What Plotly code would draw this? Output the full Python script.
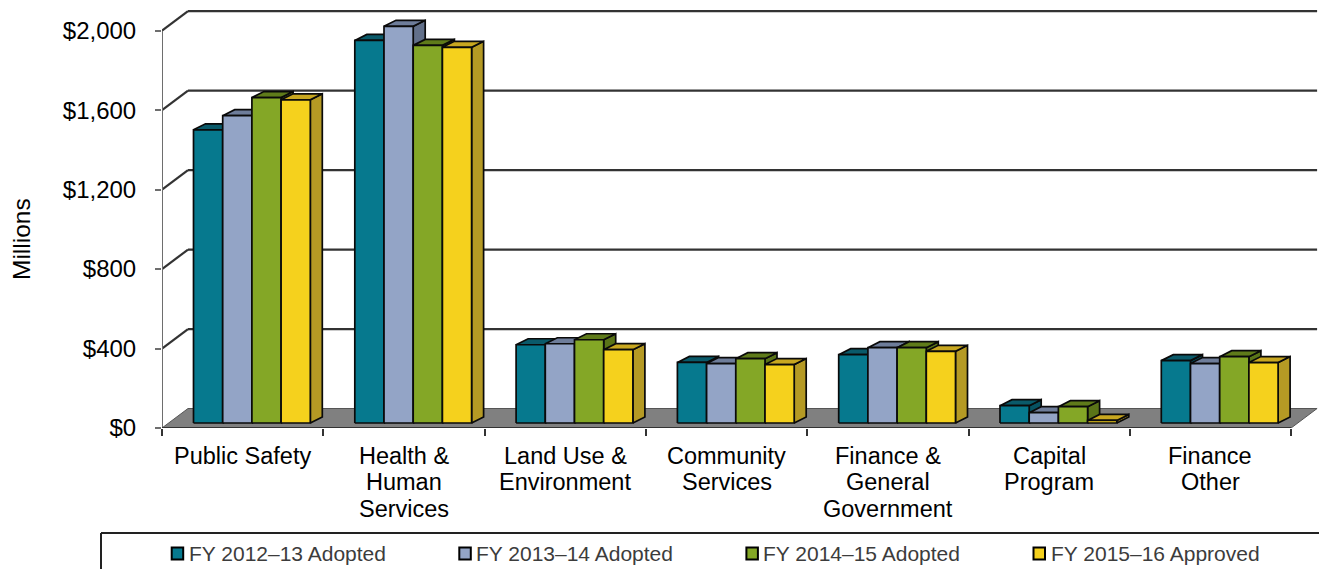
import plotly.graph_objects as go

# ---- data (millions of dollars) ----
categories = [
    ["Public Safety"],
    ["Health &", "Human", "Services"],
    ["Land Use &", "Environment"],
    ["Community", "Services"],
    ["Finance &", "General", "Government"],
    ["Capital", "Program"],
    ["Finance", "Other"],
]
series_names = ["FY 2012–13 Adopted", "FY 2013–14 Adopted",
                "FY 2014–15 Adopted", "FY 2015–16 Approved"]
fy_2012_13 = [1476, 1926, 394, 305, 344, 87, 314]
fy_2013_14 = [1547, 1997, 399, 299, 379, 52, 299]
fy_2014_15 = [1638, 1901, 419, 324, 379, 82, 334]
fy_2015_16 = [1627, 1891, 369, 294, 361, 13, 304]
series_values = [fy_2012_13, fy_2013_14, fy_2014_15, fy_2015_16]
y_ticks = [0, 400, 800, 1200, 1600, 2000]

# ---- colours: front / top / side faces ----
face_colors = [
    ("#06798E", "#0A5A6A", "#075262"),
    ("#93A4C6", "#6E7D9A", "#62708A"),
    ("#84A726", "#5F7B1A", "#5A7418"),
    ("#F5D11D", "#C8A720", "#B59A24"),
]

# ---- geometry of the oblique view ----
W, H = 1319, 569
L_M, B_M = 162, 141
PLOT_W, PLOT_H = W - L_M, H - B_M
PX_PER_CAT = 161.3
PX_PER_M = 0.19865
X_MAX = PLOT_W / PX_PER_CAT
Y_MAX = PLOT_H / PX_PER_M
N_CAT = len(categories)

FLOOR_DX = 26 / PX_PER_CAT
FLOOR_DY = 19.5 / PX_PER_M
BAR_X0 = 31.5 / PX_PER_CAT
BAR_W = 29.2 / PX_PER_CAT
BAR_BASE = 5 / PX_PER_M
BAR_DX = 12 / PX_PER_CAT
BAR_DY = 6 / PX_PER_M

FONT = "Arial, Liberation Sans, sans-serif"


def px_x(p):
    return (p - L_M) / PLOT_W


def px_y(p):
    return (PLOT_H - p) / PLOT_H


fig = go.Figure()

# bars: faces drawn series by series so the next bar hides the previous side
for j, vals in enumerate(series_values):
    front_c, top_c, side_c = face_colors[j]
    fx, fy, tx, ty, sx, sy = [], [], [], [], [], []
    for i, v in enumerate(vals):
        xl = i + BAR_X0 + j * BAR_W
        xr = xl + BAR_W
        y0 = BAR_BASE
        y1 = BAR_BASE + v
        sx += [xr, xr + BAR_DX, xr + BAR_DX, xr, xr, None]
        sy += [y0, y0 + BAR_DY, y1 + BAR_DY, y1, y0, None]
        tx += [xl, xr, xr + BAR_DX, xl + BAR_DX, xl, None]
        ty += [y1, y1, y1 + BAR_DY, y1 + BAR_DY, y1, None]
        fx += [xl, xr, xr, xl, xl, None]
        fy += [y0, y0, y1, y1, y0, None]
    for xs, ys, col in ((sx, sy, side_c), (tx, ty, top_c), (fx, fy, front_c)):
        fig.add_trace(go.Scatter(
            x=xs, y=ys, mode="lines", fill="toself", fillcolor=col,
            line=dict(color="#0a0a0a", width=1.7), hoverinfo="skip",
            showlegend=False, name=series_names[j]))

shapes = []
# floor
shapes.append(dict(
    type="path", xref="x", yref="y", layer="below",
    path=(f"M0,0 L{N_CAT},0 L{N_CAT + FLOOR_DX},{FLOOR_DY} "
          f"L{FLOOR_DX},{FLOOR_DY} Z"),
    fillcolor="#808080", line=dict(color="#555555", width=1)))
# back-wall gridlines and side-wall diagonals
for v in y_ticks[1:]:
    shapes.append(dict(type="line", xref="x", yref="y", layer="below",
                       x0=FLOOR_DX, x1=N_CAT + FLOOR_DX,
                       y0=v + FLOOR_DY, y1=v + FLOOR_DY,
                       line=dict(color="#333333", width=2.2)))
    shapes.append(dict(type="line", xref="x", yref="y", layer="below",
                       x0=0, x1=FLOOR_DX, y0=v, y1=v + FLOOR_DY,
                       line=dict(color="#333333", width=2.2)))
# value axis line and floor front edge
shapes.append(dict(type="line", xref="x", yref="y", x0=0, x1=0,
                   y0=0, y1=y_ticks[-1], line=dict(color="#6e6e6e", width=2)))
shapes.append(dict(type="line", xref="x", yref="y", x0=0, x1=N_CAT,
                   y0=0, y1=0, line=dict(color="#333333", width=2)))

# legend frame
shapes.append(dict(type="line", xref="paper", yref="paper",
                   x0=px_x(101), x1=px_x(W + 5), y0=px_y(533), y1=px_y(533),
                   line=dict(color="#222222", width=2)))
shapes.append(dict(type="line", xref="paper", yref="paper",
                   x0=px_x(101), x1=px_x(101), y0=px_y(533), y1=px_y(H + 5),
                   line=dict(color="#222222", width=2)))

annotations = []
# category labels, one line per annotation
LINE_GAP = 27
FIRST_BASELINE = 464
CAT_FONT = 23.5
for i, lines in enumerate(categories):
    for k, txt in enumerate(lines):
        base = FIRST_BASELINE + k * LINE_GAP
        annotations.append(dict(
            x=i + 0.5, xref="x", y=px_y(base - 8.5), yref="paper",
            text=txt, showarrow=False, xanchor="center", yanchor="middle",
            font=dict(family=FONT, size=CAT_FONT, color="#000000")))

# legend entries
legend_left = [171.7, 459.3, 746.4, 1033.5]
for j, name in enumerate(series_names):
    x0 = legend_left[j]
    shapes.append(dict(type="rect", xref="paper", yref="paper",
                       x0=px_x(x0), x1=px_x(x0 + 11.5),
                       y0=px_y(559.5), y1=px_y(547.5),
                       fillcolor=face_colors[j][0],
                       line=dict(color="#000000", width=2)))
    annotations.append(dict(
        x=px_x(x0 + 15), xref="paper", y=px_y(553), yref="paper",
        text=name, showarrow=False, xanchor="left", yanchor="middle",
        font=dict(family=FONT, size=21, color="#3c3c3c")))

# axis title
annotations.append(dict(
    x=px_x(22), xref="paper", y=px_y(239), yref="paper", text="Millions",
    textangle=-90, showarrow=False, xanchor="center", yanchor="middle",
    font=dict(family=FONT, size=24.5, color="#000000")))

fig.update_layout(
    width=W, height=H,
    margin=dict(l=L_M, r=0, t=0, b=B_M, pad=0),
    paper_bgcolor="white", plot_bgcolor="white",
    showlegend=False, hovermode=False,
    shapes=shapes, annotations=annotations,
    xaxis=dict(range=[0, X_MAX], showgrid=False, zeroline=False,
               showline=False, tickmode="array",
               tickvals=list(range(N_CAT + 1)), showticklabels=False,
               ticks="outside", ticklen=7, tickwidth=1.5,
               tickcolor="#333333", fixedrange=True),
    yaxis=dict(range=[0, Y_MAX], showgrid=False, zeroline=False,
               showline=False, tickmode="array", tickvals=y_ticks,
               ticktext=[f"${v:,}" for v in y_ticks],
               ticks="outside", ticklen=6, tickwidth=1.5,
               tickcolor="#6e6e6e", ticklabelstandoff=14,
               tickfont=dict(family=FONT, size=24, color="#000000"),
               fixedrange=True),
)

fig.write_html("out.html")
